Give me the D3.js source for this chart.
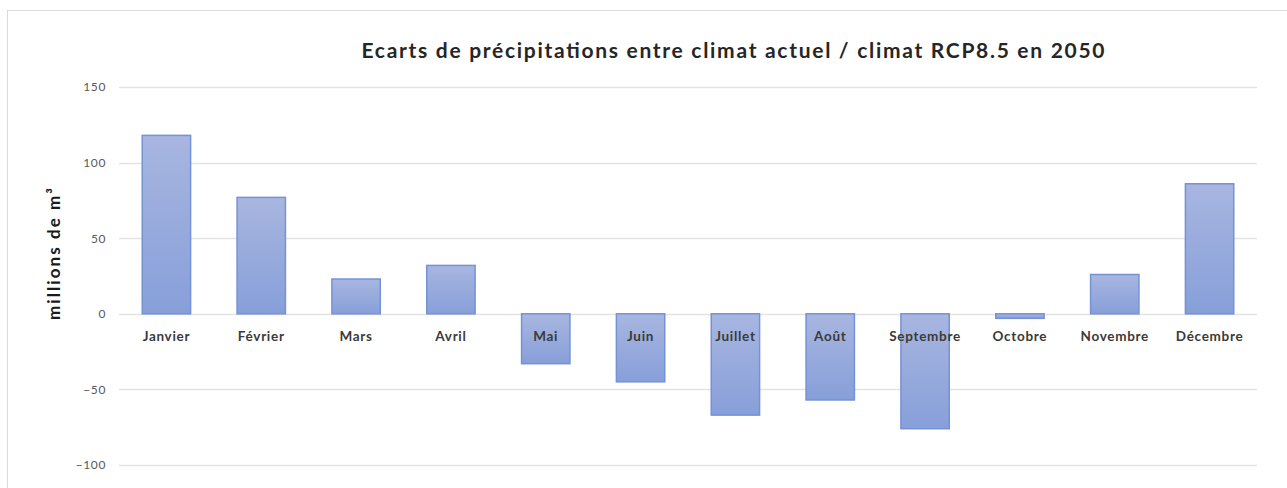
<!DOCTYPE html>
<html>
<head>
<meta charset="utf-8">
<script src="https://cdn.jsdelivr.net/npm/d3@7/dist/d3.min.js"></script>
<style>
  html, body { margin: 0; padding: 0; background: #fff; }
  svg { display: block; }
</style>
</head>
<body>
<svg id="chart" width="1287" height="488"></svg>
<script>
// Monthly precipitation differences (millions of m³)
const months = ["Janvier", "Février", "Mars", "Avril", "Mai", "Juin", "Juillet", "Août", "Septembre", "Octobre", "Novembre", "Décembre"];
const ecarts = [118, 77, 23, 32, -33, -45, -67, -57, -76, -3, 26, 86];
const yTicks = [-100, -50, 0, 50, 100, 150];
const titleText = "Ecarts de précipitations entre climat actuel / climat RCP8.5 en 2050";
const yTitle = "millions de m³";

const svg = d3.select("#chart");
const plot = { left: 119, right: 1257, top: 87, bottom: 465 };
const font = "Lato, 'Open Sans', sans-serif";

// Chart frame
svg.append("rect")
  .attr("x", 7.5).attr("y", 10.5)
  .attr("width", 1300).attr("height", 490)
  .attr("fill", "#fff").attr("stroke", "#d9d9d9").attr("stroke-width", 1);

const x = d3.scaleBand().domain(months).range([plot.left, plot.right]).paddingInner(0.49).paddingOuter(0.245);
const y = d3.scaleLinear().domain([-100, 150]).range([plot.bottom, plot.top]);

// Bar gradient
const defs = svg.append("defs");
const grad = defs.append("linearGradient").attr("id", "barFill").attr("x1", 0).attr("y1", 0).attr("x2", 0).attr("y2", 1);
grad.append("stop").attr("offset", "0%").attr("stop-color", "#a8b6e0");
grad.append("stop").attr("offset", "100%").attr("stop-color", "#879fd9");

// Gridlines
svg.append("g")
  .selectAll("line").data(yTicks).join("line")
  .attr("x1", plot.left).attr("x2", plot.right)
  .attr("y1", d => Math.round(y(d)) + 0.5).attr("y2", d => Math.round(y(d)) + 0.5)
  .attr("stroke", "#e3e3e3").attr("stroke-width", 1.5);

// Y axis tick labels
const yAxis = d3.axisLeft(y).tickValues(yTicks).tickSize(0).tickPadding(0);
const gy = svg.append("g").attr("transform", `translate(${plot.left - 13},0)`).call(yAxis);
gy.select(".domain").remove();
gy.selectAll("text")
  .attr("font-family", font)
  .attr("font-size", 12).attr("letter-spacing", 0.6).attr("fill", "#595959");

// Bars
svg.append("g")
  .selectAll("rect").data(months).join("rect")
  .attr("x", d => x(d))
  .attr("width", x.bandwidth())
  .attr("y", (d, i) => y(Math.max(0, ecarts[i])))
  .attr("height", (d, i) => Math.abs(y(ecarts[i]) - y(0)))
  .attr("fill", "url(#barFill)")
  .attr("stroke", "#7592d6").attr("stroke-width", 1.5);

// Category labels
const xAxis = d3.axisBottom(x).tickSize(0).tickPadding(0);
const gx = svg.append("g").attr("transform", `translate(0,${y(0) + 27})`).call(xAxis);
gx.select(".domain").remove();
gx.selectAll("text")
  .attr("dy", 0)
  .attr("font-family", font)
  .attr("font-weight", "bold")
  .attr("font-size", 13.5).attr("letter-spacing", 0.7).attr("fill", "#3a3a3a");

// Title
svg.append("text")
  .attr("x", 733).attr("y", 58)
  .attr("text-anchor", "middle")
  .attr("font-family", font)
  .attr("font-weight", "bold")
  .attr("font-size", 21).attr("fill", "#262626")
  .attr("textLength", 743).attr("lengthAdjust", "spacing")
  .text(titleText);

// Y axis title
svg.append("text")
  .attr("transform", `translate(60,254) rotate(-90)`)
  .attr("text-anchor", "middle")
  .attr("font-family", font)
  .attr("font-weight", "bold")
  .attr("font-size", 17).attr("fill", "#1a1a1a")
  .attr("textLength", 132).attr("lengthAdjust", "spacing")
  .text(yTitle);
</script>
</body>
</html>
